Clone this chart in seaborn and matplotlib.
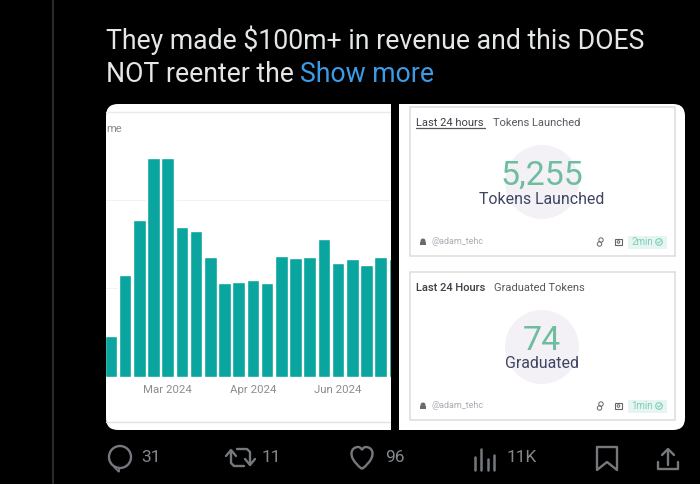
import pandas as pd
import matplotlib
matplotlib.use("Agg")
import matplotlib.pyplot as plt
import seaborn as sns
from matplotlib.patches import Circle, FancyBboxPatch, PathPatch, Polygon, Rectangle
from matplotlib.path import Path

# === data ===
bar_values = [41, 102, 157, 219, 219, 150, 146, 120, 94, 95, 97, 94, 121, 119, 120, 138, 114, 118, 112, 120, 118]
tick_bars = [4, 10, 16]
tick_labels = ["Mar 2024", "Apr 2024", "Jun 2024"]
gridline_values = [89, 177]
tweet_line1 = "They made $100m+ in revenue and this DOES"
tweet_line2 = "NOT reenter the"
reply_count, repost_count, like_count, view_count = "31", "11", "96", "11K"

TEAL = "#0aa59f"
HALO = "#86e8de"
GREEN = "#6dbd9e"
NAVY = "#3d4560"
GREY = "#75797e"

sns.set_theme(style="white")
plt.rcParams["font.family"] = ["Roboto", "DejaVu Sans"]

fig = plt.figure(figsize=(7, 4.84), dpi=100, facecolor="black")

# page layer, in pixels
bg = fig.add_axes([0, 0, 1, 1], zorder=0)
bg.set_xlim(0, 700)
bg.set_ylim(484, 0)
bg.axis("off")

# thread line
bg.add_patch(Rectangle((52, 0), 2, 484, color="#2b2b2b", lw=0))

# tweet text
bg.text(106, 40.5, tweet_line1, color="#e4e6e7", fontsize=19.15, va="center")
bg.text(106, 75, tweet_line2, color="#e4e6e7", fontsize=19.15, va="center")
bg.text(300, 75, "Show more", color="#3b9be6", fontsize=19.15, va="center")

# screenshot
bg.add_patch(FancyBboxPatch((106, 104), 579, 326, boxstyle="round,pad=0,rounding_size=12",
                            fc="white", ec="none", lw=0))
bg.add_patch(Rectangle((391, 100), 8, 335, color="black", lw=0, zorder=3))
bg.plot([106, 391], [112, 112], color="#eee9e5", lw=1)
bg.plot([106, 391], [422, 422], color="#e6e1de", lw=1)
bg.text(106, 129, "me", color="#8b8b8b", fontsize=8, va="center")


def draw_card(top, bottom, cy, header, header_x, title, number, label, age, underline):
    bg.add_patch(Rectangle((410, top), 265, bottom - top, fc="white", ec="#dcdcdc", lw=1.1))
    bg.add_patch(Circle((542, cy), 37, fc="#f3f1f6", ec="none"))
    weight = "normal" if underline else "medium"
    bg.text(416, top + 16, header, color="#3c3f46", fontsize=8, va="center", fontweight=weight)
    if underline:
        bg.plot([416, 485], [top + 21, top + 21], color="#55585e", lw=0.9)
    bg.text(header_x, top + 16, title, color="#55585e", fontsize=8, va="center")
    bg.text(542, cy - 6, number, color=GREEN, fontsize=24.5, ha="center", va="center")
    bg.text(542, cy + 17, label, color=NAVY, fontsize=11.4, ha="center", va="center")
    # footer row
    fy = bottom - 14
    bg.add_patch(Circle((423, fy - 1), 2.5, fc="#6a6a6a", ec="none"))
    bg.add_patch(Rectangle((420, fy), 6, 3, fc="#6a6a6a", ec="none"))
    bg.text(431, fy, "@adam_tehc", color="#a9adb3", fontsize=6.5, va="center")
    bg.add_patch(Circle((601, fy - 2), 2.2, fc="none", ec="#666666", lw=0.7))
    bg.add_patch(Circle((599.5, fy + 2), 2.2, fc="none", ec="#666666", lw=0.7))
    bg.add_patch(Rectangle((615, fy - 3), 7, 6, fc="none", ec="#666666", lw=0.8))
    bg.add_patch(Circle((618.5, fy), 1.3, fc="none", ec="#666666", lw=0.7))
    bg.add_patch(Rectangle((628, fy - 6.5), 39, 13, fc="#e6f5f1", ec="none"))
    bg.text(631, fy, age, color="#7fcdb9", fontsize=7, va="center")
    bg.add_patch(Circle((659, fy), 3.3, fc="none", ec="#7fcdb9", lw=0.8))
    bg.plot([657.5, 658.7, 660.7], [fy, fy + 1.2, fy - 1.2], color="#7fcdb9", lw=0.7)


draw_card(107, 256, 182, "Last 24 hours", 493, "Tokens Launched", "5,255", "Tokens Launched", "2min", True)
draw_card(272, 420, 347, "Last 24 Hours", 494, "Graduated Tokens", "74", "Graduated", "1min", False)

# action row
ICON = dict(color=GREY, lw=1.7, solid_capstyle="round", solid_joinstyle="round")
bg.add_patch(Circle((120, 457), 11, fc="none", ec=GREY, lw=1.7))
bg.add_patch(Polygon([[114, 467], [119, 468], [119, 472]], closed=True, fc="black", ec=GREY, lw=1.3))
bg.plot([231, 231, 234, 244], [451, 463, 466, 466], **ICON)
bg.plot([226, 231, 236], [456, 450, 456], **ICON)
bg.plot([250, 250, 247, 237], [465, 452, 449, 449], **ICON)
bg.plot([245, 250, 255], [459, 465, 459], **ICON)
heart = Path(
    [(362, 469), (352, 461), (351.5, 456), (351.5, 453.5), (351.5, 449), (355, 447), (358, 447),
     (360, 447), (361.5, 448.5), (362, 450), (362.5, 448.5), (364, 447), (366, 447),
     (369, 447), (372.5, 449), (372.5, 453.5), (372.5, 456), (372, 461), (362, 469)],
    [Path.MOVETO] + [Path.CURVE4] * 18,
)
bg.add_patch(PathPatch(heart, fc="none", ec=GREY, lw=1.7))
for bx, by in [(475, 457), (481, 449), (488, 459), (494, 455)]:
    bg.plot([bx, bx], [by, 470], color=GREY, lw=1.8)
bg.plot([597, 597, 607, 617, 617, 597], [447, 470, 462, 470, 447, 447], **ICON)
bg.plot([668, 668], [450, 465], **ICON)
bg.plot([662, 668, 674], [455, 449, 455], **ICON)
bg.plot([658, 658, 678, 678], [462, 469, 469, 462], **ICON)
for tx, count in [(141, reply_count), (262, repost_count), (385, like_count), (507, view_count)]:
    bg.text(tx, 458, count, color="#85888c", fontsize=12.5, va="center")

# === bar chart, drawn through seaborn ===
ax = fig.add_axes([106 / 700, (484 - 377) / 484, 285 / 700, 272 / 484], zorder=2)
ax.patch.set_alpha(0)
df = pd.DataFrame({"bar": range(len(bar_values)), "value": bar_values})
sns.barplot(data=df, x="bar", y="value", color=HALO, width=1.0, saturation=1, ax=ax)
sns.barplot(data=df, x="bar", y="value", color=TEAL, width=0.89, saturation=1, ax=ax)
for g in gridline_values:
    ax.axhline(g, color="#f4f2f0", lw=0.8, zorder=0)
ax.set_xlim(-0.34, 19.73)
ax.set_ylim(0, 272)
ax.set_xticks(tick_bars)
ax.set_xticklabels(tick_labels, color="#8d8d8d", fontsize=8.2)
ax.set_yticks([])
ax.set_xlabel("")
ax.set_ylabel("")
ax.tick_params(axis="x", length=0, pad=6)
sns.despine(ax=ax, left=True, bottom=True)

fig.savefig("out.png", dpi=100, facecolor="black")
